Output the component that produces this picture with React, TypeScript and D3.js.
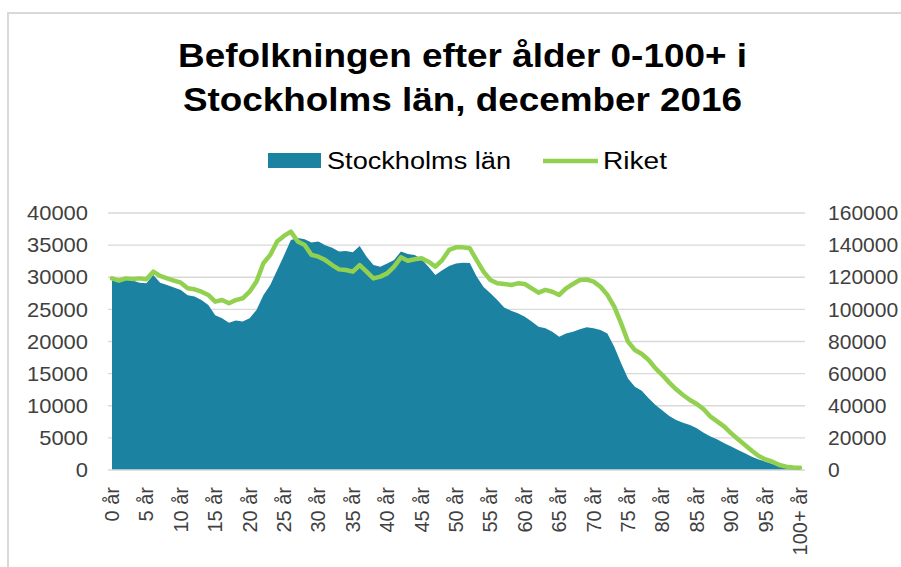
import React, { useEffect, useRef } from "react";
import * as d3 from "d3";

const ages: string[] = Array.from({ length: 101 }, (_, i) => (i === 100 ? "100+ år" : `${i} år`));

const stockholm: number[] = [
  29600, 29300, 29600, 29500, 29150, 29050, 30350, 29150, 28800, 28400,
  28000, 27200, 27000, 26450, 25700, 24100, 23600, 22900, 23250, 23100,
  23600, 24900, 27200, 28800, 31100, 33400, 35800, 36100, 35900, 35400,
  35550, 35000, 34600, 34000, 34100, 33900, 34850, 33200, 31900, 31650,
  32150, 32700, 34000, 33600, 33450, 32800, 31650, 30350, 31100, 31750,
  32150, 32250, 32200, 30100, 28500, 27500, 26450, 25300, 24800, 24400,
  23850, 23100, 22300, 22050, 21500, 20750, 21250, 21500, 21900, 22200,
  22050, 21800, 21250, 19200, 16600, 14250, 12950, 12350, 11150, 10100,
  9250, 8400, 7800, 7350, 7000, 6500, 5800, 5200, 4750, 4150,
  3650, 3100, 2600, 2050, 1650, 1300, 950, 650, 420, 280,
  250,
];

const riket: number[] = [
  119300, 117900, 119300, 118900, 119300, 118700, 123500, 120800, 119300, 117900,
  116600, 113100, 112500, 111000, 109000, 104800, 105800, 103800, 105800, 106900,
  111000, 117300, 128700, 133900, 142200, 145700, 148400, 142200, 140100, 133900,
  132800, 130700, 127600, 124900, 124500, 123500, 127600, 123500, 119300, 120400,
  122400, 126600, 132400, 130300, 131200, 131800, 129700, 126600, 130700, 137000,
  138600, 138600, 138000, 130700, 123500, 118300, 116200, 115800, 115200, 116200,
  115800, 113100, 110400, 112100, 111000, 109000, 113100, 115800, 118300, 118600,
  117300, 114100, 109000, 101700, 91300, 79900, 74700, 72200, 68500, 63300,
  59100, 54400, 50200, 46700, 43600, 41100, 37800, 33200, 30100, 27000,
  22800, 19100, 15600, 12000, 8700, 6600, 5200, 3100, 2100, 1500,
  1400,
];

const leftTicks: number[] = [0, 5000, 10000, 15000, 20000, 25000, 30000, 35000, 40000];
const rightTicks: number[] = [0, 20000, 40000, 60000, 80000, 100000, 120000, 140000, 160000];
const titleLines: string[] = ["Befolkningen efter ålder 0-100+ i", "Stockholms län, december 2016"];
const seriesNames: string[] = ["Stockholms län", "Riket"];

const BLUE = "#1b82a2";
const GREEN = "#92d050";
const GRID = "#d9d9d9";

export default function App() {
  const ref = useRef<SVGSVGElement | null>(null);

  useEffect(() => {
    const svg = d3.select(ref.current);
    svg.selectAll("*").remove();

    const left = 112, right = 800, top = 213, bottom = 470;
    const x = d3.scaleLinear().domain([0, ages.length - 1]).range([left, right]);
    const yL = d3.scaleLinear().domain([0, 40000]).range([bottom, top]);
    const yR = d3.scaleLinear().domain([0, 160000]).range([bottom, top]);

    svg.append("rect").attr("x", 8).attr("y", 13).attr("width", 900).attr("height", 560)
      .attr("fill", "white").attr("stroke", GRID).attr("stroke-width", 2);

    svg.append("g").selectAll("line").data(leftTicks.filter((t) => t > 0)).join("line")
      .attr("x1", 108).attr("x2", 805)
      .attr("y1", (d) => yL(d)).attr("y2", (d) => yL(d))
      .attr("stroke", GRID).attr("stroke-width", 1.3);

    const area = d3.area<number>()
      .x((_, i) => x(i))
      .y0(yL(0))
      .y1((d) => yL(d));
    svg.append("path").datum(stockholm).attr("d", area).attr("fill", BLUE);

    svg.append("line").attr("x1", 108).attr("x2", 805).attr("y1", bottom).attr("y2", bottom)
      .attr("stroke", GRID).attr("stroke-width", 1.3);

    const line = d3.line<number>()
      .x((_, i) => x(i))
      .y((d) => yR(d));
    svg.append("path").datum(riket).attr("d", line).attr("fill", "none")
      .attr("stroke", GREEN).attr("stroke-width", 4.5)
      .attr("stroke-linejoin", "round").attr("stroke-linecap", "round");

    const font = "'Liberation Sans', Arial, sans-serif";

    const gL = svg.append("g").attr("transform", `translate(${left - 24},0)`)
      .call(d3.axisLeft(yL).tickValues(leftTicks).tickSize(0).tickPadding(0).tickFormat((d) => String(d)));
    gL.select(".domain").remove();
    gL.selectAll("text").attr("font-family", font).attr("font-size", 21).attr("fill", "#404040")
      .attr("textLength", function () { return (this as SVGTextElement).textContent!.length * 12.2; })
      .attr("lengthAdjust", "spacingAndGlyphs");

    const gR = svg.append("g").attr("transform", `translate(828,0)`)
      .call(d3.axisRight(yR).tickValues(rightTicks).tickSize(0).tickPadding(0).tickFormat((d) => String(d)));
    gR.select(".domain").remove();
    gR.selectAll("text").attr("font-family", font).attr("font-size", 21).attr("fill", "#404040")
      .attr("textLength", function () { return (this as SVGTextElement).textContent!.length * 11.7; })
      .attr("lengthAdjust", "spacingAndGlyphs");

    const xIdx = d3.range(0, 101, 5);
    svg.append("g").selectAll("text").data(xIdx).join("text")
      .attr("transform", (d) => `translate(${x(d) + 7},487) rotate(-90)`)
      .attr("text-anchor", "end")
      .attr("font-family", font).attr("font-size", 20).attr("fill", "#404040")
      .text((d) => ages[d]);

    const titleX = 462.5;
    svg.append("text").attr("x", titleX).attr("y", 67).attr("text-anchor", "middle")
      .attr("font-family", font).attr("font-weight", "bold").attr("font-size", 34)
      .attr("textLength", 569).attr("lengthAdjust", "spacingAndGlyphs")
      .text(titleLines[0]);
    svg.append("text").attr("x", titleX).attr("y", 111).attr("text-anchor", "middle")
      .attr("font-family", font).attr("font-weight", "bold").attr("font-size", 34)
      .attr("textLength", 559).attr("lengthAdjust", "spacingAndGlyphs")
      .text(titleLines[1]);

    svg.append("rect").attr("x", 268).attr("y", 153).attr("width", 53).attr("height", 15).attr("fill", BLUE);
    svg.append("text").attr("x", 327).attr("y", 169).attr("font-family", font).attr("font-size", 23)
      .attr("textLength", 184).attr("lengthAdjust", "spacingAndGlyphs").text(seriesNames[0]);
    svg.append("line").attr("x1", 543).attr("x2", 598).attr("y1", 161).attr("y2", 161)
      .attr("stroke", GREEN).attr("stroke-width", 4.5);
    svg.append("text").attr("x", 603).attr("y", 169).attr("font-family", font).attr("font-size", 23)
      .attr("textLength", 64).attr("lengthAdjust", "spacingAndGlyphs").text(seriesNames[1]);
  }, []);

  return (
    <svg ref={ref} width={901} height={567} style={{ position: "absolute", left: 0, top: 0, background: "white" }} />
  );
}
